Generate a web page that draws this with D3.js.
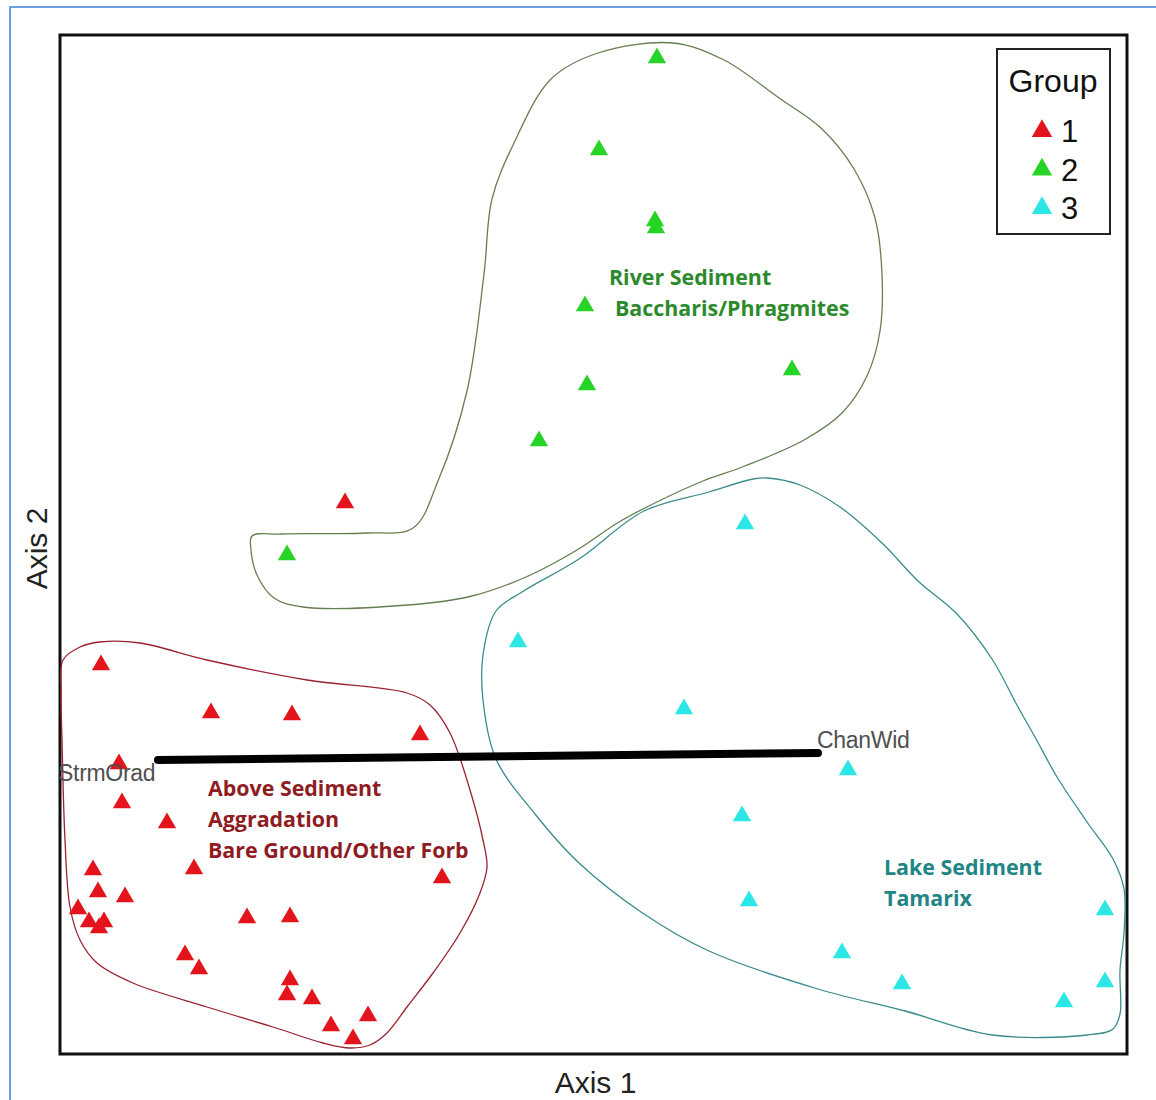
<!DOCTYPE html>
<html><head><meta charset="utf-8">
<script src="https://cdn.jsdelivr.net/npm/d3@7"></script>
<style>html,body{margin:0;padding:0;background:#fff;} svg{display:block;}</style>
</head><body>
<svg id="chart" width="1156" height="1100"></svg>
<script>
// ---- data (axis units) ----
const groups = ["1", "2", "3"];
const groupColors = ["#e3141b", "#26d326", "#2de6e6"];
const hullColors = ["#9b2230", "#667f52", "#3a8c8c"];
const labelColors = ["#8e1c22", "#2c8a2c", "#1f8585"];

const group1 = [[0.41,3.89],[1.51,3.41],[2.32,3.39],[3.60,3.19],[0.59,2.90],[0.62,2.51],[1.07,2.31],[0.33,1.84],[1.34,1.85],[3.82,1.76],[0.38,1.62],[0.65,1.57],[0.18,1.45],[0.29,1.32],[0.44,1.32],[0.39,1.26],[1.87,1.36],[2.30,1.37],[1.25,0.99],[1.39,0.85],[2.30,0.74],[2.27,0.59],[2.52,0.55],[2.71,0.28],[3.08,0.38],[2.93,0.15],[2.85,5.51]];
const group2 = [[5.97,9.96],[5.39,9.04],[5.95,8.33],[5.96,8.26],[5.25,7.48],[5.27,6.69],[7.32,6.84],[4.79,6.13],[2.27,4.99]];
const group3 = [[6.85,5.30],[4.58,4.12],[6.24,3.45],[7.88,2.84],[6.82,2.38],[6.89,1.53],[7.82,1.01],[8.42,0.70],[10.04,0.52],[10.45,0.72],[10.45,1.44]];

const hull1 = [[0.03,3.94],[0.20,4.07],[0.40,4.12],[0.80,4.11],[1.47,3.94],[2.47,3.74],[3.47,3.61],[3.70,3.49],[3.90,3.21],[4.10,2.64],[4.23,2.14],[4.27,1.87],[4.20,1.61],[4.00,1.21],[3.73,0.81],[3.47,0.47],[3.27,0.21],[3.10,0.09],[2.90,0.06],[2.63,0.11],[2.13,0.27],[1.47,0.47],[0.73,0.71],[0.37,0.91],[0.20,1.14],[0.10,1.47],[0.05,2.14],[0.02,3.14],[0.01,3.64]];
const hull2 = [[1.92,5.18],[2.22,5.20],[3.06,5.21],[3.53,5.26],[3.78,5.73],[4.07,6.63],[4.24,7.80],[4.32,8.55],[4.54,9.11],[4.91,9.75],[5.38,10.01],[6.13,10.11],[6.64,9.94],[7.19,9.56],[7.61,9.26],[7.94,8.85],[8.15,8.36],[8.22,7.80],[8.20,7.23],[8.07,6.78],[7.82,6.41],[7.44,6.14],[6.85,5.88],[6.43,5.73],[6.01,5.54],[5.59,5.32],[5.17,5.04],[4.66,4.77],[4.12,4.58],[3.48,4.49],[2.43,4.47],[2.14,4.56],[1.97,4.79],[1.91,5.04]];
const hull3 = [[7.08,5.76],[7.40,5.69],[7.80,5.47],[8.23,5.10],[8.58,4.73],[8.97,4.40],[9.32,3.95],[9.58,3.47],[9.75,3.17],[9.97,2.77],[10.27,2.32],[10.53,1.95],[10.64,1.65],[10.64,1.21],[10.60,0.84],[10.60,0.40],[10.53,0.25],[10.27,0.19],[9.32,0.19],[8.45,0.43],[7.58,0.65],[6.49,1.03],[5.84,1.40],[5.19,1.91],[4.75,2.40],[4.36,2.95],[4.23,3.54],[4.23,3.99],[4.36,4.43],[4.62,4.62],[5.19,4.95],[5.84,5.43],[6.49,5.62],[6.93,5.75]];

const vectorNames = ["StrmOrad", "ChanWid"];
const vectorEnds = [[0.98,2.94],[7.58,3.01]];

const groupLabels = [
  {lines:["Above Sediment","Aggradation","Bare Ground/Other Forb"], at:[1.48,2.58], indent:[0,0,0]},
  {lines:["River Sediment","Baccharis/Phragmites"], at:[5.49,7.69], indent:[0,0.06]},
  {lines:["Lake Sediment","Tamarix"], at:[8.24,1.79], indent:[0,0]}
];
const axisTitles = ["Axis 1", "Axis 2"];

// ---- drawing ----
const svg = d3.select("#chart");
const L = 60, R = 1127, T = 35, B = 1054;
const x = d3.scaleLinear().domain([0, 10.67]).range([L, R]);
const y = d3.scaleLinear().domain([0, 10.19]).range([B, T]);
const sans = "Liberation Sans, Arial, sans-serif";

// page frame (blue)
svg.append("path").attr("d", `M10,1100 L10,7 L1156,7`).attr("fill","none")
  .attr("stroke","#6f9fe6").attr("stroke-width",2);

// plot frame
svg.append("rect").attr("x",L).attr("y",T).attr("width",R-L).attr("height",B-T)
  .attr("fill","none").attr("stroke","#111").attr("stroke-width",3);

// hulls
const hullLine = d3.line().x(d=>x(d[0])).y(d=>y(d[1])).curve(d3.curveCatmullRomClosed.alpha(0.5));
[hull1, hull2, hull3].forEach((h,i)=>{
  svg.append("path").attr("d", hullLine(h)).attr("fill","none")
    .attr("stroke", hullColors[i]).attr("stroke-width",1.3);
});

// points
const tri = d3.symbol().type(d3.symbolTriangle).size(145);
[group1, group2, group3].forEach((g,i)=>{
  svg.append("g").selectAll("path").data(g).join("path")
    .attr("d", tri).attr("transform", d=>`translate(${x(d[0])},${y(d[1])})`)
    .attr("fill", groupColors[i]);
});

// vector line
svg.append("line")
  .attr("x1", x(vectorEnds[0][0])).attr("y1", y(vectorEnds[0][1]))
  .attr("x2", x(vectorEnds[1][0])).attr("y2", y(vectorEnds[1][1]))
  .attr("stroke","#000").attr("stroke-width",8).attr("stroke-linecap","round");

// vector labels
svg.append("text").attr("x", x(vectorEnds[0][0]) - 100).attr("y", y(vectorEnds[0][1]) + 21)
  .attr("font-family",sans).attr("font-size",23).attr("fill","#505050").attr("letter-spacing",-0.3)
  .text(vectorNames[0]);
svg.append("text").attr("x", x(vectorEnds[1][0]) - 1).attr("y", y(vectorEnds[1][1]) - 5)
  .attr("font-family",sans).attr("font-size",23).attr("fill","#505050").attr("letter-spacing",-0.3)
  .text(vectorNames[1]);

// group labels
groupLabels.forEach((g,i)=>{
  g.lines.forEach((ln,j)=>{
    svg.append("text").attr("x", x(g.at[0] + g.indent[j])).attr("y", y(g.at[1]) + j*31)
      .attr("font-family","'Open Sans', Lato, sans-serif").attr("font-weight","bold")
      .attr("font-size",21.4).attr("fill", labelColors[i]).text(ln);
  });
});

// axis titles
svg.append("text").attr("x",(L+R)/2+2).attr("y",1093).attr("text-anchor","middle")
  .attr("font-family",sans).attr("font-size",30).attr("fill","#222")
  .text(axisTitles[0]);
svg.append("text").attr("transform",`translate(47,${(T+B)/2+4}) rotate(-90)`).attr("text-anchor","middle")
  .attr("font-family",sans).attr("font-size",30).attr("fill","#222")
  .text(axisTitles[1]);

// legend
const lg = svg.append("g");
lg.append("rect").attr("x",997).attr("y",49).attr("width",113).attr("height",185)
  .attr("fill","#fff").attr("stroke","#222").attr("stroke-width",2);
lg.append("text").attr("x",1053).attr("y",92).attr("text-anchor","middle")
  .attr("font-family",sans).attr("font-size",32).attr("fill","#111").text("Group");
const ltri = d3.symbol().type(d3.symbolTriangle).size(180);
groups.forEach((gname,i)=>{
  const yy = 131 + i*38.5;
  lg.append("path").attr("d", ltri).attr("transform",`translate(1042,${yy})`).attr("fill", groupColors[i]);
  lg.append("text").attr("x",1061).attr("y",yy+11).attr("font-family",sans)
    .attr("font-size",31).attr("fill","#111").text(gname);
});
</script>
</body></html>
